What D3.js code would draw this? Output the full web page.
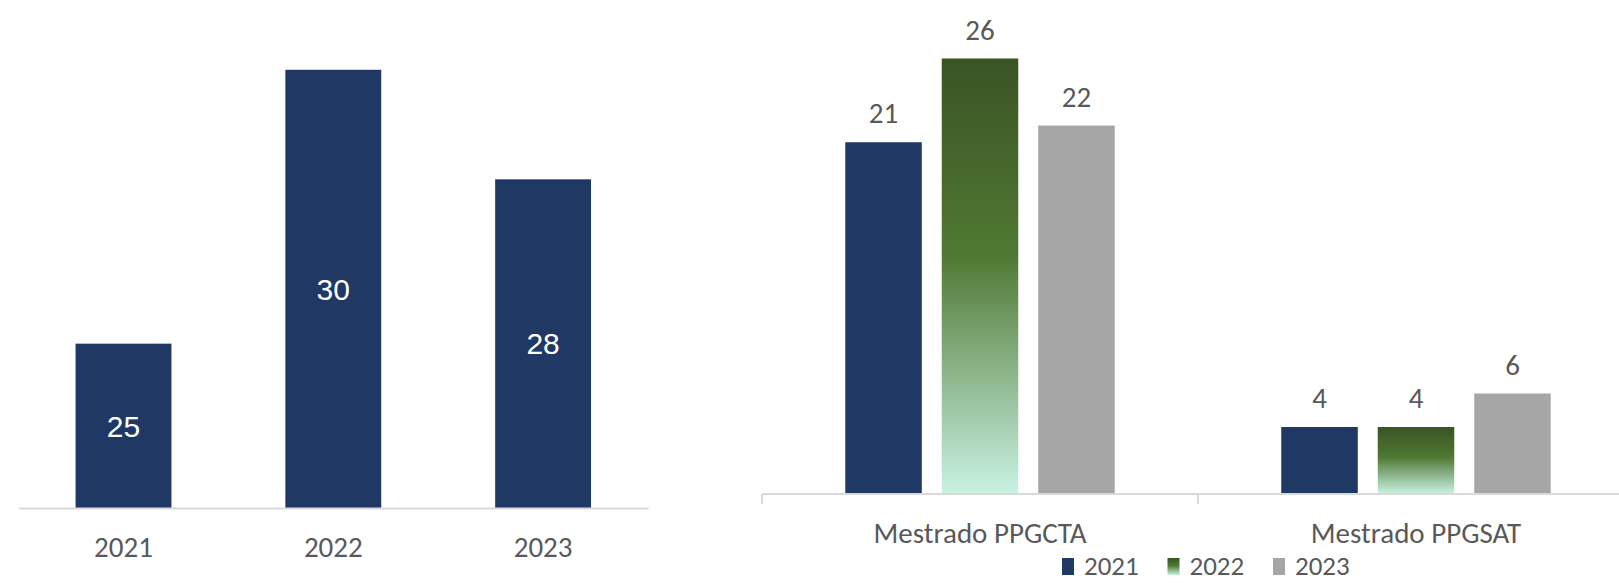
<!DOCTYPE html>
<html>
<head>
<meta charset="utf-8">
<script src="https://cdn.jsdelivr.net/npm/d3@7.9.0/dist/d3.min.js"></script>
<style>
  html, body { margin: 0; padding: 0; background: #fff; }
  svg { display: block; }
  .lbl { font-family: Carlito, Calibri, "Liberation Sans Narrow", "DejaVu Sans Condensed", sans-serif; fill: #595959; }
</style>
</head>
<body>
<svg id="chart" width="1619" height="583"></svg>
<script>
// left chart: totals per year
const years = ['2021', '2022', '2023'];
const totals = [25, 30, 28];

// right chart: per program, per year
const programs = ['Mestrado PPGCTA', 'Mestrado PPGSAT'];
const series2021 = [21, 4];
const series2022 = [26, 4];
const series2023 = [22, 6];

const navy = '#203864';
const grey = '#a6a6a6';
const axisGrey = '#d9d9d9';

const svg = d3.select('#chart');

// gradient for the 2022 bars (each bar gets it over its own box)
const defs = svg.append('defs');
const grad = defs.append('linearGradient')
    .attr('id', 'green')
    .attr('x1', 0).attr('y1', 0).attr('x2', 0).attr('y2', 1);
grad.append('stop').attr('offset', '0%').attr('stop-color', '#3a5424');
grad.append('stop').attr('offset', '45%').attr('stop-color', '#507833');
grad.append('stop').attr('offset', '100%').attr('stop-color', '#c9f2e4');

// ---------- left chart ----------
let xL = d3.scaleBand().domain(years).range([18.6, 648]).paddingInner(0.543).paddingOuter(0.2715);
let yL = d3.scaleLinear().domain([22, 31]).range([508, 15]);

const left = svg.append('g');
left.selectAll('rect')
    .data(years)
    .join('rect')
    .attr('x', d => xL(d))
    .attr('width', xL.bandwidth())
    .attr('y', (d, i) => yL(totals[i]))
    .attr('height', (d, i) => yL.range()[0] - yL(totals[i]))
    .attr('fill', navy);

left.selectAll('text.val')
    .data(years)
    .join('text')
    .attr('class', 'val')
    .attr('x', d => xL(d) + xL.bandwidth() / 2)
    .attr('y', (d, i) => (yL(totals[i]) + yL.range()[0]) / 2)
    .attr('dy', '0.36em')
    .attr('text-anchor', 'middle')
    .attr('font-family', '"Liberation Sans", Arial, sans-serif')
    .attr('font-size', 30)
    .attr('fill', '#fff')
    .text((d, i) => totals[i]);

const axL = left.append('g')
    .attr('transform', `translate(0,${yL.range()[0]})`)
    .call(d3.axisBottom(xL).tickSize(0).tickPadding(28));
axL.select('.domain').attr('stroke', axisGrey).attr('stroke-width', 2);
axL.selectAll('text').attr('class', 'lbl').attr('font-size', 29);

// ---------- right chart ----------
const seriesNames = ['2021', '2022', '2023'];
const seriesData = [series2021, series2022, series2023];
const seriesFill = [navy, 'url(#green)', grey];

let x0 = d3.scaleBand().domain(programs).range([762, 1634]);
let x1 = d3.scaleBand().domain(seriesNames).range([0, x0.bandwidth()]).paddingInner(0.207).paddingOuter(0.863);
let yR = d3.scaleLinear().domain([0, 28]).range([494, 25]);

const right = svg.append('g');

const groups = right.selectAll('g.prog')
    .data(programs)
    .join('g')
    .attr('class', 'prog')
    .attr('transform', d => `translate(${x0(d)},0)`);

groups.selectAll('rect')
    .data((p, pi) => seriesNames.map((s, si) => ({ s, si, v: seriesData[si][pi] })))
    .join('rect')
    .attr('x', d => x1(d.s))
    .attr('width', x1.bandwidth())
    .attr('y', d => yR(d.v))
    .attr('height', d => yR(0) - yR(d.v))
    .attr('fill', d => seriesFill[d.si]);

groups.selectAll('text')
    .data((p, pi) => seriesNames.map((s, si) => ({ s, si, v: seriesData[si][pi] })))
    .join('text')
    .attr('class', 'lbl')
    .attr('x', d => x1(d.s) + x1.bandwidth() / 2)
    .attr('y', d => yR(d.v) - 19)
    .attr('text-anchor', 'middle')
    .attr('font-size', 29)
    .attr('fill', '#404040')
    .text(d => d.v);

const axR = right.append('g')
    .attr('transform', `translate(0,${yR(0)})`)
    .call(d3.axisBottom(x0).tickSize(0).tickPadding(28));
axR.select('.domain').remove();
axR.selectAll('text').attr('class', 'lbl').attr('font-size', 29);

// baseline and the boundary ticks between categories
right.append('line')
    .attr('x1', x0.range()[0]).attr('x2', x0.range()[1])
    .attr('y1', yR(0)).attr('y2', yR(0))
    .attr('stroke', axisGrey).attr('stroke-width', 2);
const bounds = programs.map(p => x0(p)).concat([x0.range()[1]]);
right.selectAll('line.tick')
    .data(bounds)
    .join('line')
    .attr('class', 'tick')
    .attr('x1', d => d).attr('x2', d => d)
    .attr('y1', yR(0)).attr('y2', yR(0) + 10)
    .attr('stroke', axisGrey).attr('stroke-width', 2);

// legend
const legend = right.append('g').attr('transform', 'translate(1062,558)');
const items = legend.selectAll('g')
    .data(seriesNames)
    .join('g')
    .attr('transform', (d, i) => `translate(${i * 105.5},0)`);
items.append('rect')
    .attr('width', 12).attr('height', 17)
    .attr('fill', (d, i) => seriesFill[i]);
items.append('text')
    .attr('class', 'lbl')
    .attr('x', 22).attr('y', 17)
    .attr('font-size', 27)
    .text(d => d);
</script>
</body>
</html>
